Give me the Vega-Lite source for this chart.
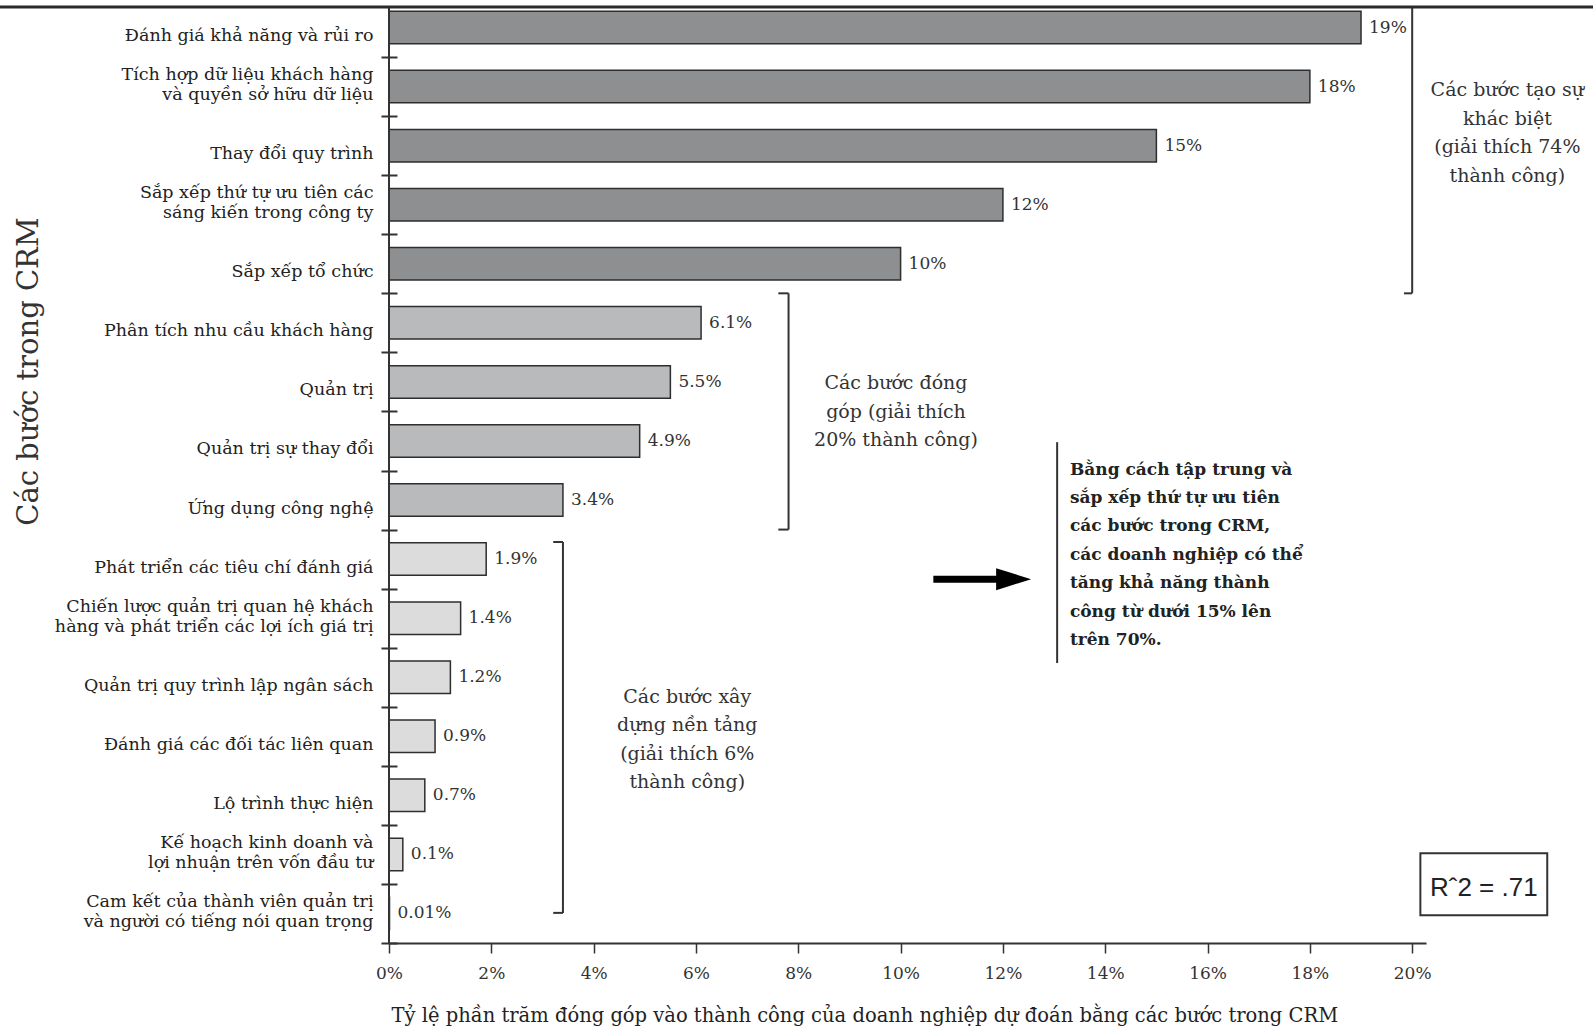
{
  "$schema": "https://vega.github.io/schema/vega-lite/v6.json",
  "width": 1037,
  "height": 936,
  "autosize": {"type": "none"},
  "padding": {"left": 389, "top": 7, "right": 167, "bottom": 89},
  "background": "white",
  "config": {"view": {"stroke": null}, "font": "DejaVu Serif"},
  "datasets": {
    "steps": [
      {"step": "Đánh giá khả năng và rủi ro", "value": 19, "label": "19%", "grp": "a"},
      {"step": "Tích hợp dữ liệu khách hàng|và quyền sở hữu dữ liệu", "value": 18, "label": "18%", "grp": "a"},
      {"step": "Thay đổi quy trình", "value": 15, "label": "15%", "grp": "a"},
      {"step": "Sắp xếp thứ tự ưu tiên các|sáng kiến trong công ty", "value": 12, "label": "12%", "grp": "a"},
      {"step": "Sắp xếp tổ chức", "value": 10, "label": "10%", "grp": "a"},
      {"step": "Phân tích nhu cầu khách hàng", "value": 6.1, "label": "6.1%", "grp": "b"},
      {"step": "Quản trị", "value": 5.5, "label": "5.5%", "grp": "b"},
      {"step": "Quản trị sự thay đổi", "value": 4.9, "label": "4.9%", "grp": "b"},
      {"step": "Ứng dụng công nghệ", "value": 3.4, "label": "3.4%", "grp": "b"},
      {"step": "Phát triển các tiêu chí đánh giá", "value": 1.9, "label": "1.9%", "grp": "c"},
      {"step": "Chiến lược quản trị quan hệ khách|hàng và phát triển các lợi ích giá trị", "value": 1.4, "label": "1.4%", "grp": "c"},
      {"step": "Quản trị quy trình lập ngân sách", "value": 1.2, "label": "1.2%", "grp": "c"},
      {"step": "Đánh giá các đối tác liên quan", "value": 0.9, "label": "0.9%", "grp": "c"},
      {"step": "Lộ trình thực hiện", "value": 0.7, "label": "0.7%", "grp": "c"},
      {"step": "Kế hoạch kinh doanh và|lợi nhuận trên vốn đầu tư", "value": 0.27, "label": "0.1%", "grp": "c"},
      {"step": "Cam kết của thành viên quản trị|và người có tiếng nói quan trọng", "value": 0.01, "label": "0.01%", "grp": "c"}
    ],
    "lines": [
      {"x": 20.0, "x2": 20.0, "y": 0.152, "y2": 5.0},
      {"x": 19.84, "x2": 20.0, "y": 5.0, "y2": 5.0},
      {"x": 7.81, "x2": 7.81, "y": 5.0, "y2": 9.0},
      {"x": 7.61, "x2": 7.81, "y": 5.0, "y2": 5.0},
      {"x": 7.61, "x2": 7.81, "y": 9.0, "y2": 9.0},
      {"x": 3.40, "x2": 3.40, "y": 9.21, "y2": 15.49},
      {"x": 3.21, "x2": 3.40, "y": 9.21, "y2": 9.21},
      {"x": 3.21, "x2": 3.40, "y": 15.49, "y2": 15.49},
      {"x": 13.06, "x2": 13.06, "y": 7.52, "y2": 11.26},
      {"x": 0, "x2": 0, "y": 0.152, "y2": 16}
    ],
    "groups": [
      {"x": 21.86, "y": 1.405, "text": "Các bước tạo sự\nkhác biệt\n(giải thích 74%\nthành công)"},
      {"x": 9.91, "y": 6.37, "text": "Các bước đóng\ngóp (giải thích\n20% thành công)"},
      {"x": 5.83, "y": 11.68, "text": "Các bước xây\ndựng nền tảng\n(giải thích 6%\nthành công)"}
    ]
  },
  "layer": [
    {
      "data": {"name": "steps"},
      "encoding": {
        "y": {
          "field": "step", "type": "nominal", "sort": null,
          "scale": {"range": [-9, 936], "paddingInner": 0, "paddingOuter": 0},
          "axis": {
            "title": "Các bước trong CRM",
            "titleFont": "DejaVu Serif", "titleFontSize": 29, "titleFontWeight": "normal", "titleColor": "#333",
            "titleAngle": 270, "titleX": -360, "titleY": 364, "titleAlign": "center", "titleBaseline": "alphabetic",
            "offset": -8, "domain": false, "tickBand": "extent", "ticks": true, "tickSize": 16, "tickWidth": 2, "tickColor": "#333",
            "labelExpr": "indexof(datum.label, '|') < 0 ? ['', datum.label] : split(datum.label, '|')",
            "labelFont": "DejaVu Serif", "labelFontSize": 17.5, "labelColor": "#222",
            "labelAlign": "right", "labelBaseline": "bottom", "labelOffset": -3, "labelLineHeight": 20,
            "labelPadding": 8, "labelLimit": 500, "labelOverlap": false, "grid": false
          }
        },
        "x": {
          "field": "value", "type": "quantitative",
          "scale": {"domain": [0, 20.27], "nice": false, "zero": false},
          "axis": {
            "title": "Tỷ lệ phần trăm đóng góp vào thành công của doanh nghiệp dự đoán bằng các bước trong CRM",
            "values": [0, 2, 4, 6, 8, 10, 12, 14, 16, 18, 20],
            "labelExpr": "datum.value + '%'",
            "domainColor": "#333", "domainWidth": 2, "tickColor": "#333", "tickWidth": 1.5, "tickSize": 10,
            "labelFont": "DejaVu Serif", "labelFontSize": 17, "labelColor": "#333", "labelPadding": 12,
            "labelFlush": false, "labelOverlap": false,
            "titleFont": "DejaVu Serif", "titleFontSize": 19.5, "titleFontWeight": "normal", "titleColor": "#222",
            "titleX": 2, "titleY": 72, "titleAlign": "left", "titleBaseline": "middle", "grid": false
          }
        }
      },
      "layer": [
        {
          "mark": {"type": "bar", "height": {"band": 0.55}, "stroke": "#2e2e2e", "strokeWidth": 1.5},
          "encoding": {
            "color": {"field": "grp", "type": "nominal",
              "scale": {"domain": ["a", "b", "c"], "range": ["#8e8f91", "#b9babc", "#dcdcdc"]}, "legend": null}
          }
        },
        {
          "mark": {"type": "text", "align": "left", "baseline": "middle", "dx": 8, "fontSize": 17, "font": "DejaVu Serif", "color": "#333"},
          "encoding": {"text": {"field": "label"}}
        }
      ]
    },
    {
      "layer": [
        {
          "data": {"name": "lines"},
          "mark": {"type": "rule", "stroke": "#333", "strokeWidth": 2},
          "encoding": {
            "x": {"field": "x", "type": "quantitative", "scale": {"domain": [0, 20.27], "nice": false, "zero": false}, "axis": null},
            "x2": {"field": "x2"},
            "y": {"field": "y", "type": "quantitative", "scale": {"domain": [0.152, 16], "reverse": true, "nice": false, "zero": false}, "axis": null},
            "y2": {"field": "y2"}
          }
        },
        {
          "data": {"values": [{"x": -7.61, "x2": 23.55, "y": 0.152}]},
          "mark": {"type": "rule", "stroke": "#2a2a2a", "strokeWidth": 3},
          "encoding": {
            "x": {"field": "x", "type": "quantitative", "scale": {"domain": [0, 20.27], "nice": false, "zero": false}, "axis": null},
            "x2": {"field": "x2"},
            "y": {"field": "y", "type": "quantitative", "scale": {"domain": [0.152, 16], "reverse": true, "nice": false, "zero": false}, "axis": null}
          }
        },
        {
          "data": {"values": [{"x": 10.64, "x2": 11.95, "y": 9.84}]},
          "mark": {"type": "rule", "stroke": "#000", "strokeWidth": 7},
          "encoding": {
            "x": {"field": "x", "type": "quantitative", "scale": {"domain": [0, 20.27], "nice": false, "zero": false}, "axis": null},
            "x2": {"field": "x2"},
            "y": {"field": "y", "type": "quantitative", "scale": {"domain": [0.152, 16], "reverse": true, "nice": false, "zero": false}, "axis": null}
          }
        },
        {
          "data": {"values": [{"x": 12.21, "y": 9.84}]},
          "mark": {"type": "point", "shape": "M-1,-0.63L1,0L-1,0.63Z", "size": 1225, "filled": true, "color": "#000", "opacity": 1},
          "encoding": {
            "x": {"field": "x", "type": "quantitative", "scale": {"domain": [0, 20.27], "nice": false, "zero": false}, "axis": null},
            "y": {"field": "y", "type": "quantitative", "scale": {"domain": [0.152, 16], "reverse": true, "nice": false, "zero": false}, "axis": null}
          }
        },
        {
          "data": {"values": [{"x": 20.16, "x2": 22.64, "y": 14.48, "y2": 15.53}]},
          "mark": {"type": "rect", "fill": "white", "stroke": "#333", "strokeWidth": 2},
          "encoding": {
            "x": {"field": "x", "type": "quantitative", "scale": {"domain": [0, 20.27], "nice": false, "zero": false}, "axis": null},
            "x2": {"field": "x2"},
            "y": {"field": "y", "type": "quantitative", "scale": {"domain": [0.152, 16], "reverse": true, "nice": false, "zero": false}, "axis": null},
            "y2": {"field": "y2"}
          }
        },
        {
          "data": {"values": [{"x": 21.4, "y": 15.2, "text": "Rˆ2 = .71"}]},
          "mark": {"type": "text", "font": "Liberation Sans", "fontSize": 26, "align": "center", "baseline": "alphabetic", "color": "#222"},
          "encoding": {
            "x": {"field": "x", "type": "quantitative", "scale": {"domain": [0, 20.27], "nice": false, "zero": false}, "axis": null},
            "y": {"field": "y", "type": "quantitative", "scale": {"domain": [0.152, 16], "reverse": true, "nice": false, "zero": false}, "axis": null},
            "text": {"field": "text"}
          }
        },
        {
          "data": {"name": "groups"},
          "mark": {"type": "text", "font": "DejaVu Serif", "fontSize": 19, "align": "center", "baseline": "top", "lineBreak": "\n", "lineHeight": 28.5, "color": "#333"},
          "encoding": {
            "x": {"field": "x", "type": "quantitative", "scale": {"domain": [0, 20.27], "nice": false, "zero": false}, "axis": null},
            "y": {"field": "y", "type": "quantitative", "scale": {"domain": [0.152, 16], "reverse": true, "nice": false, "zero": false}, "axis": null},
            "text": {"field": "text"}
          }
        },
        {
          "data": {"values": [{"x": 13.31, "y": 7.85, "text": "Bằng cách tập trung và\nsắp xếp thứ tự ưu tiên\ncác bước trong CRM,\ncác doanh nghiệp có thể\ntăng khả năng thành\ncông từ dưới 15% lên\ntrên 70%."}]},
          "mark": {"type": "text", "font": "DejaVu Serif", "fontSize": 17, "fontWeight": "bold", "align": "left", "baseline": "top", "lineBreak": "\n", "lineHeight": 28.4, "color": "#222"},
          "encoding": {
            "x": {"field": "x", "type": "quantitative", "scale": {"domain": [0, 20.27], "nice": false, "zero": false}, "axis": null},
            "y": {"field": "y", "type": "quantitative", "scale": {"domain": [0.152, 16], "reverse": true, "nice": false, "zero": false}, "axis": null},
            "text": {"field": "text"}
          }
        }
      ]
    }
  ],
  "resolve": {"scale": {"y": "independent"}, "axis": {"y": "independent", "x": "independent"}}
}
